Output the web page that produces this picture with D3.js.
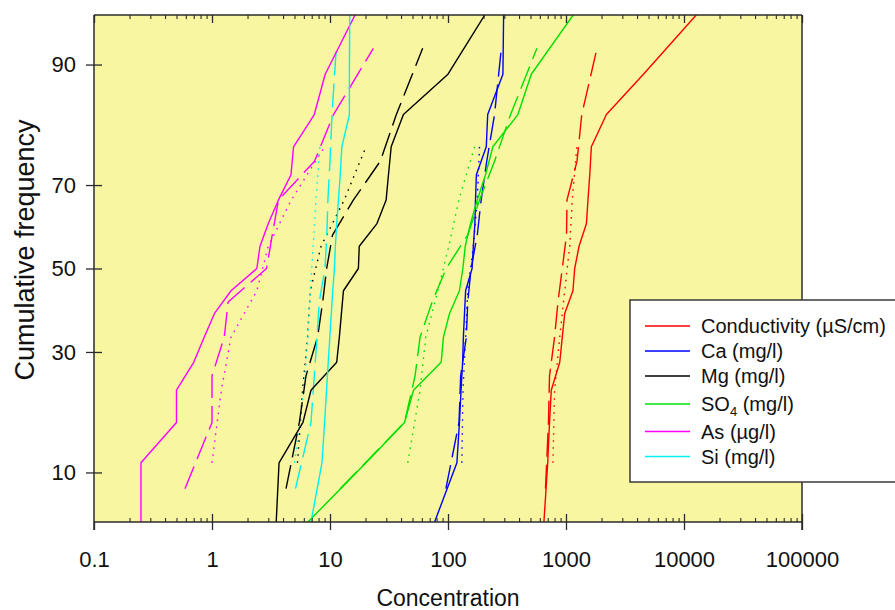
<!DOCTYPE html>
<html>
<head>
<meta charset="utf-8">
<script src="https://cdn.jsdelivr.net/npm/d3@7"></script>
<style>
  html, body { margin: 0; padding: 0; background: #ffffff; }
  svg { display: block; font-family: "Liberation Sans", Arial, sans-serif; }
</style>
</head>
<body>
<svg id="chart" width="895" height="610"></svg>
<script>
// Cumulative frequency (%) plotting positions for the three sample groups
const freqSolid  = [5.56, 11.11, 16.67, 22.22, 27.78, 33.33, 38.89, 44.44, 50, 55.56, 61.11, 66.67, 72.22, 77.78, 83.33, 88.89, 94.44];
const freqDashed = [8.33, 16.67, 25, 33.33, 41.67, 50, 58.33, 66.67, 75, 83.33, 91.67];
const freqDotted = [11.11, 22.22, 33.33, 44.44, 55.56, 66.67, 77.78];

// Conductivity (µS/cm)
const condSolid  = [650, 700, 725, 750, 885, 930, 975, 1145, 1185, 1290, 1490, 1535, 1590, 1640, 2200, 4530, 12700];
const condDashed = [670, 710, 725, 800, 855, 930, 1010, 1020, 1240, 1360, 1830];
const condDotted = [775, 800, 885, 975, 1075, 1130, 1235];
// Ca (mg/l)
const caSolid  = [77, 119, 125, 129, 133, 135, 138, 141, 160, 164, 169, 171, 174, 211, 217, 292, 296];
const caDashed = [96, 124, 128, 143, 147, 157, 177, 191, 213, 248, 283];
const caDotted = [131, 134, 141, 147, 164, 177, 185];
// Mg (mg/l)
const mgSolid  = [3.5, 3.7, 5.9, 6.9, 11.4, 12.0, 12.5, 13.0, 17.4, 17.7, 25, 29.9, 31.3, 33, 41.9, 100, 205];
const mgDashed = [4.24, 5.5, 6.26, 7.85, 8.67, 9.37, 10.5, 15.8, 26.7, 36.5, 61];
const mgDotted = [5.3, 5.86, 6.46, 6.81, 8.4, 13.2, 20.2];
// SO4 (mg/l)
const so4Solid  = [6.5, 20.2, 42.8, 51, 87.5, 91.5, 103, 125, 133.6, 140, 155, 177, 208, 240, 391, 508, 1150];
const so4Dashed = [12.2, 42.8, 52.6, 58, 73.4, 96.4, 147, 185, 248, 339, 567];
const so4Dotted = [45.6, 58, 64.8, 82, 101.6, 123.6, 168];
// As (µg/l)
const asSolid  = [0.25, 0.25, 0.5, 0.5, 0.7, 0.86, 1.05, 1.45, 2.4, 2.55, 3.0, 3.66, 4.67, 4.91, 7.36, 9.1, 16.3];
const asDashed = [0.59, 1.0, 1.0, 1.27, 1.37, 2.9, 3.24, 3.66, 7.4, 10.7, 23.3];
const asDotted = [1.0, 1.2, 1.45, 2.4, 3.0, 4.7, 9.0];
// Si (mg/l)
const siSolid  = [6.9, 8.55, 9.0, 9.35, 9.66, 9.97, 10.26, 10.55, 10.9, 11.1, 11.4, 11.8, 12.2, 12.6, 14.6, 14.6, 14.7];
const siDashed = [5.1, 6.9, 7.36, 7.77, 8.1, 9.07, 9.4, 9.6, 10.0, 10.4, 11.3];
const siDotted = [5.0, 6.0, 6.5, 6.8, 7.2, 7.6, 8.2];

const parameters = ["Conductivity (µS/cm)", "Ca (mg/l)", "Mg (mg/l)", "SO4 (mg/l)", "As (µg/l)", "Si (mg/l)"];
const colors = ["#ff0000", "#0000ff", "#000000", "#00e000", "#ff00ff", "#00f0f0"];
const seriesSolid  = [condSolid, caSolid, mgSolid, so4Solid, asSolid, siSolid];
const seriesDashed = [condDashed, caDashed, mgDashed, so4Dashed, asDashed, siDashed];
const seriesDotted = [condDotted, caDotted, mgDotted, so4Dotted, asDotted, siDotted];

const xTickValues = [0.1, 1, 10, 100, 1000, 10000, 100000];
const xTickLabels = ["0.1", "1", "10", "100", "1000", "10000", "100000"];
const yTickValues = [10, 30, 50, 70, 90];

// Inverse standard normal CDF (Acklam's rational approximation)
function probit(p) {
  const a = [-3.969683028665376e+01, 2.209460984245205e+02, -2.759285104469687e+02, 1.383577518672690e+02, -3.066479806614716e+01, 2.506628277459239e+00];
  const b = [-5.447609879822406e+01, 1.615858368580409e+02, -1.556989798598866e+02, 6.680131188771972e+01, -1.328068155288572e+01];
  const c = [-7.784894002430293e-03, -3.223964580411365e-01, -2.400758277161838e+00, -2.549732539343734e+00, 4.374664141464968e+00, 2.938163982698783e+00];
  const d = [7.784695709041462e-03, 3.224671290700398e-01, 2.445134137142996e+00, 3.754408661907416e+00];
  const pl = 0.02425;
  if (p < pl) {
    const q = Math.sqrt(-2 * Math.log(p));
    return (((((c[0]*q+c[1])*q+c[2])*q+c[3])*q+c[4])*q+c[5]) / ((((d[0]*q+d[1])*q+d[2])*q+d[3])*q+1);
  } else if (p <= 1 - pl) {
    const q = p - 0.5, r = q * q;
    return (((((a[0]*r+a[1])*r+a[2])*r+a[3])*r+a[4])*r+a[5])*q / (((((b[0]*r+b[1])*r+b[2])*r+b[3])*r+b[4])*r+1);
  } else {
    const q = Math.sqrt(-2 * Math.log(1 - p));
    return -(((((c[0]*q+c[1])*q+c[2])*q+c[3])*q+c[4])*q+c[5]) / ((((d[0]*q+d[1])*q+d[2])*q+d[3])*q+1);
  }
}
const pz = pct => probit(pct / 100);

const W = 895, H = 610;
const m = { left: 94, right: 802, top: 15, bottom: 522 };
const svg = d3.select("#chart");
svg.append("rect").attr("width", W).attr("height", H).attr("fill", "#ffffff");

const x = d3.scaleLog().domain([0.1, 100000]).range([m.left, m.right]);
// probability axis: linear in the normal quantile
const y = d3.scaleLinear().domain([pz(freqSolid[0]), pz(freqSolid[freqSolid.length - 1])]).range([m.bottom, m.top]);

svg.append("rect")
  .attr("x", m.left).attr("y", m.top)
  .attr("width", m.right - m.left).attr("height", m.bottom - m.top)
  .attr("fill", "#f9f6a1");

svg.append("clipPath").attr("id", "plot-clip")
  .append("rect").attr("x", m.left).attr("y", m.top)
  .attr("width", m.right - m.left).attr("height", m.bottom - m.top);

const lineGen = d3.line().x(d => x(d[0])).y(d => y(pz(d[1])));
const plot = svg.append("g").attr("clip-path", "url(#plot-clip)");

const styles = [
  { series: seriesDotted, freq: freqDotted, dash: "1.6,5.4" },
  { series: seriesDashed, freq: freqDashed, dash: "24,8" },
  { series: seriesSolid,  freq: freqSolid,  dash: null }
];
styles.forEach(st => {
  st.series.forEach((vals, k) => {
    const pts = vals.map((v, i) => [v, st.freq[i]]);
    plot.append("path")
      .attr("d", lineGen(pts))
      .attr("fill", "none")
      .attr("stroke", colors[k])
      .attr("stroke-width", 1.4)
      .attr("stroke-linejoin", "round")
      .attr("stroke-dasharray", st.dash);
  });
});

// ---- axes ----
const axisColor = "#2b2b2b";
const minorTicks = [];
for (let e = -1; e < 5; e++) for (let k = 2; k <= 9; k++) minorTicks.push(k * Math.pow(10, e));

// bottom axis: labels and major ticks crossing the line
const gx = svg.append("g").attr("transform", `translate(0,${m.bottom})`)
  .call(d3.axisBottom(x).tickValues(xTickValues).tickFormat((d, i) => xTickLabels[i]).tickSize(8).tickPadding(21));
gx.select(".domain").remove();
gx.selectAll(".tick line").attr("y1", -8).attr("y2", 8).attr("stroke", axisColor).attr("stroke-width", 1.3);
gx.selectAll(".tick text").attr("font-size", 22).attr("fill", "#111").attr("font-family", "'Liberation Sans', Arial, sans-serif");
gx.selectAll(".tick").filter((d, i) => i === 0).select("line").attr("y1", 0);

const gxm = svg.append("g").attr("transform", `translate(0,${m.bottom})`)
  .call(d3.axisBottom(x).tickValues(minorTicks).tickFormat("").tickSize(-4));
gxm.select(".domain").remove();
gxm.selectAll(".tick line").attr("stroke", axisColor).attr("stroke-width", 1.1);

// top mirrored axis with inward ticks
const gt = svg.append("g").attr("transform", `translate(0,${m.top})`)
  .call(d3.axisTop(x).tickValues(xTickValues).tickFormat("").tickSize(-8));
gt.select(".domain").remove();
gt.selectAll(".tick line").attr("stroke", axisColor).attr("stroke-width", 1.3);
const gtm = svg.append("g").attr("transform", `translate(0,${m.top})`)
  .call(d3.axisTop(x).tickValues(minorTicks).tickFormat("").tickSize(-4));
gtm.select(".domain").remove();
gtm.selectAll(".tick line").attr("stroke", axisColor).attr("stroke-width", 1.1);

// left probability axis
const gy = svg.append("g").attr("transform", `translate(${m.left},0)`)
  .call(d3.axisLeft(y).tickValues(yTickValues.map(pz)).tickFormat((d, i) => yTickValues[i]).tickSize(8).tickPadding(10));
gy.select(".domain").remove();
gy.selectAll(".tick line").attr("x1", 8).attr("x2", -8).attr("stroke", axisColor).attr("stroke-width", 1.3);
gy.selectAll(".tick text").attr("font-size", 22).attr("fill", "#111").attr("font-family", "'Liberation Sans', Arial, sans-serif");

// frame lines
svg.append("line").attr("x1", m.left).attr("x2", m.left).attr("y1", m.top).attr("y2", m.bottom + 8)
  .attr("stroke", axisColor).attr("stroke-width", 1.5);
svg.append("line").attr("x1", m.right).attr("x2", m.right).attr("y1", m.top).attr("y2", m.bottom + 8)
  .attr("stroke", axisColor).attr("stroke-width", 1.5);
svg.append("line").attr("x1", m.left).attr("x2", m.right).attr("y1", m.bottom).attr("y2", m.bottom)
  .attr("stroke", axisColor).attr("stroke-width", 1.5);
svg.append("line").attr("x1", m.left).attr("x2", m.right).attr("y1", m.top).attr("y2", m.top)
  .attr("stroke", axisColor).attr("stroke-width", 1.5);

// axis titles
svg.append("text").attr("x", (m.left + m.right) / 2).attr("y", 606)
  .attr("text-anchor", "middle").attr("font-size", 23).attr("fill", "#111")
  .text("Concentration");
svg.append("text").attr("transform", `translate(34,250) rotate(-90)`)
  .attr("text-anchor", "middle").attr("font-size", 27).attr("fill", "#111")
  .text("Cumulative frequency");

// ---- legend ----
const lg = svg.append("g");
lg.append("rect").attr("x", 630).attr("y", 300).attr("width", 280).attr("height", 182)
  .attr("fill", "#ffffff").attr("stroke", "#3a3a3a").attr("stroke-width", 1.5);
parameters.forEach((name, i) => {
  const ly = 326 + 25 * i + (i === 3 ? 3 : i > 3 ? 5.5 : 0);
  lg.append("line").attr("x1", 645).attr("x2", 690).attr("y1", ly).attr("y2", ly)
    .attr("stroke", colors[i]).attr("stroke-width", 1.4);
  const t = lg.append("text").attr("x", 701).attr("y", ly + 7).attr("font-size", 20).attr("fill", "#111");
  if (name.startsWith("SO4")) {
    t.append("tspan").text("SO");
    t.append("tspan").attr("font-size", 13).attr("dy", 5).text("4");
    t.append("tspan").attr("dy", -5).text(" (mg/l)");
  } else {
    t.text(name);
  }
});
</script>
</body>
</html>
